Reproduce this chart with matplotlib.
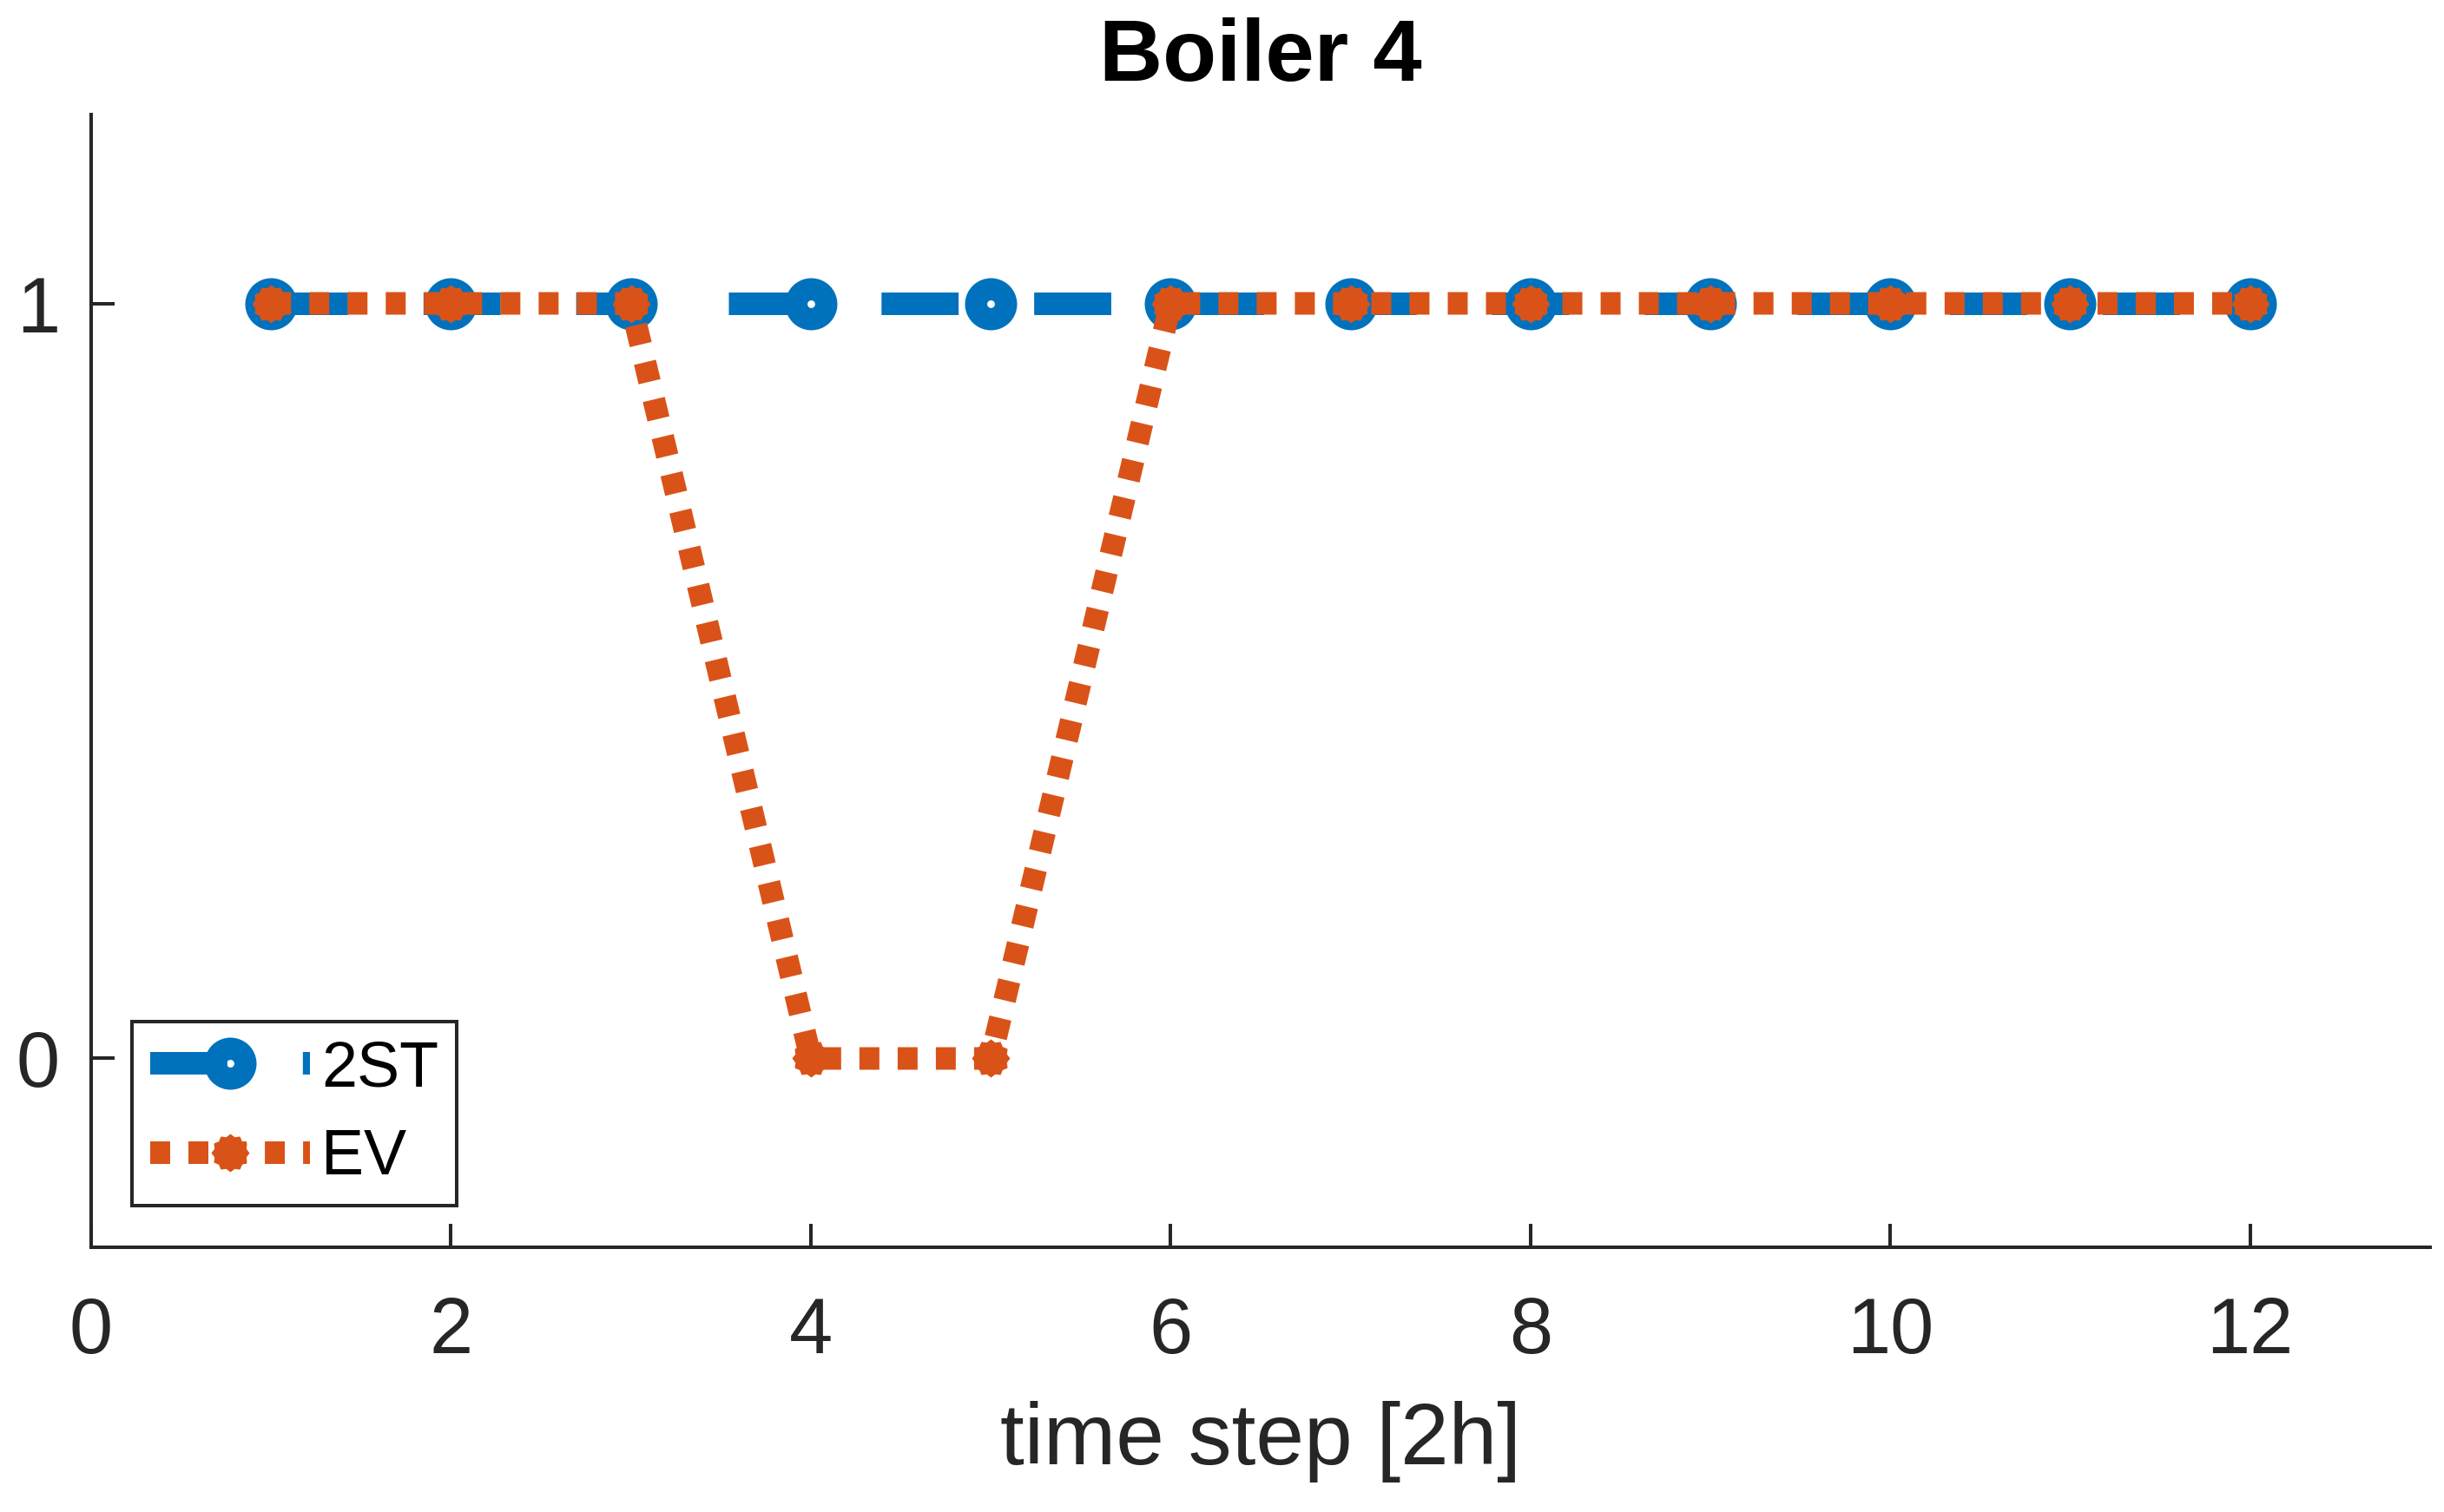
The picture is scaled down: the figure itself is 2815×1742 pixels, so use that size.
import numpy as np
import matplotlib
matplotlib.use('Agg')
import matplotlib.pyplot as plt

# data
steps = [1, 2, 3, 4, 5, 6, 7, 8, 9, 10, 11, 12]
on_2st = [1, 1, 1, 1, 1, 1, 1, 1, 1, 1, 1, 1]
on_ev = [1, 1, 1, 0, 0, 1, 1, 1, 1, 1, 1, 1]
labels = ['2ST', 'EV']
title = 'Boiler 4'
xlabel = 'time step [2h]'
xticks = [0, 2, 4, 6, 8, 10, 12]
yticks = [0, 1]

blue = '#0072BD'
orange = '#D95319'
dark = '#262626'

plt.rcParams['font.family'] = ['Liberation Sans', 'DejaVu Sans']

# jagged round marker, like a thick matlab asterisk
ang = np.arange(24) * np.pi / 12
rad = np.where(np.arange(24) % 2 == 0, 1.0, 0.86)
star = list(zip(rad * np.cos(ang), rad * np.sin(ang)))

fig = plt.figure(figsize=(28.15, 17.42), dpi=100)
ax = fig.add_axes([0.0373, 0.1751, 0.957, 0.7491])

lw = 18.7
ax.plot(steps, on_2st, color=blue, lw=lw, dashes=(3.42, 3.35),
        dash_capstyle='butt', marker='o', ms=24.8, mew=18.4,
        mfc='none', mec=blue, label=labels[0])
ax.plot(steps, on_ev, color=orange, lw=lw, dashes=(0.885, 0.81),
        dash_capstyle='butt', marker=star, ms=31.7, mew=0,
        mfc=orange, label=labels[1])

ax.set_xlim(0, 13)
ax.set_ylim(-0.25, 1.25)
ax.set_xticks(xticks)
ax.set_yticks(yticks)

for s in ['top', 'right']:
    ax.spines[s].set_visible(False)
for s in ['left', 'bottom']:
    ax.spines[s].set_linewidth(2.9)
    ax.spines[s].set_color(dark)

ax.tick_params(direction='in', length=19.4, width=2.9, color=dark,
               labelsize=65, labelcolor=dark)
ax.tick_params(axis='x', pad=40)
ax.tick_params(axis='y', pad=26)

ax.set_xlabel(xlabel, fontsize=72, color=dark, labelpad=26)
ax.set_title(title, fontsize=73, fontweight='bold', color='black', pad=28)

leg = ax.legend(loc='lower left', bbox_to_anchor=(0.01745, 0.0368),
                borderaxespad=0, fontsize=53, handlelength=2.5,
                handletextpad=0.18, borderpad=0.28, labelspacing=0.45,
                fancybox=False, framealpha=1, edgecolor=dark)
leg.get_frame().set_linewidth(2.9)

fig.savefig('out.png', dpi=100)
